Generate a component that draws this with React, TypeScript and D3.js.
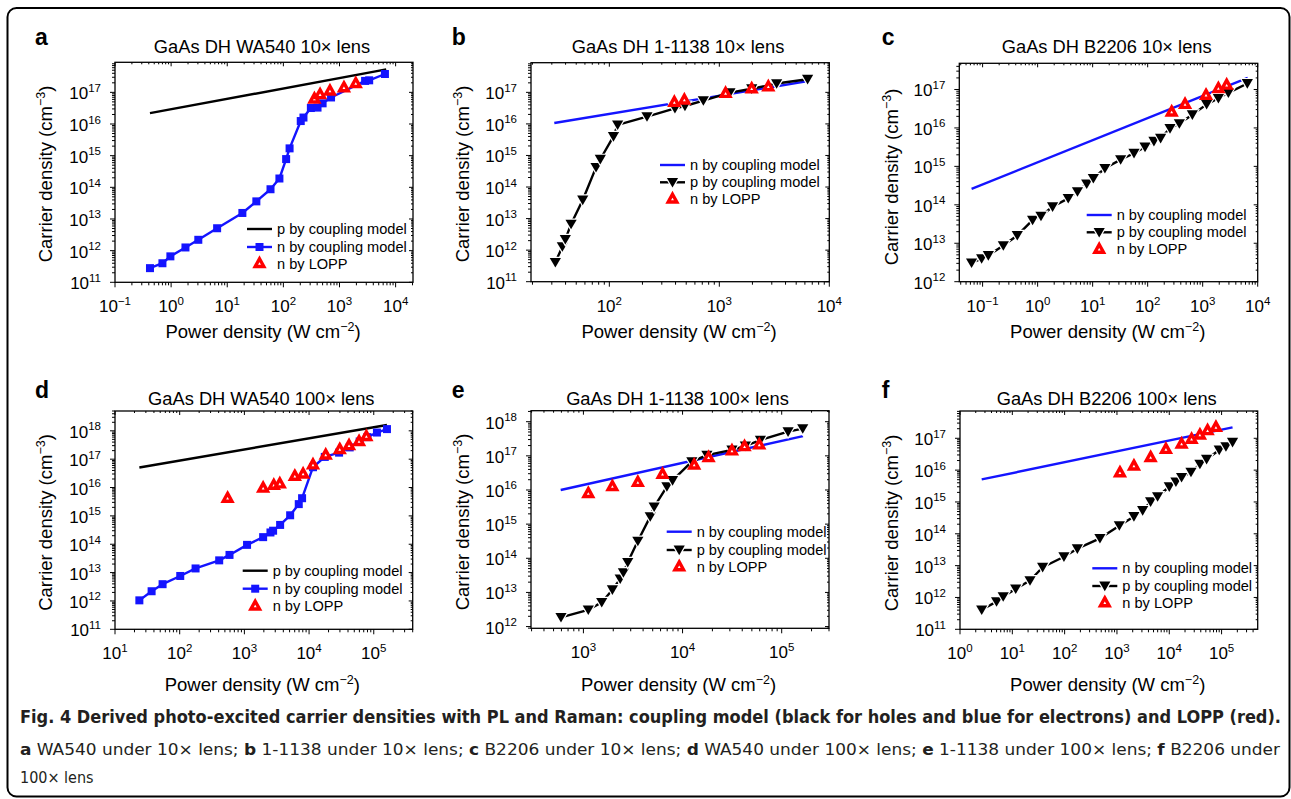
import React from 'react';
import * as d3 from 'd3';

type Pt = [number, number];

// ---- data (power density W/cm2, carrier density cm-3) ----

// a: GaAs DH WA540, 10x lens
const aHoles: Pt[] = [[0.42, 2.2e16], [6800, 5.3e17]];
const aElectrons: Pt[] = [
  [0.42, 2.8e11], [0.7, 4e11], [0.97, 6.6e11], [1.8, 1.26e12], [3.05, 2.2e12],
  [6.6, 5.1e12], [18.6, 1.55e13], [33, 3.6e13], [59, 8.7e13], [85, 1.9e14],
  [112, 7.8e14], [129, 1.7e15], [204, 1.24e16], [228, 1.6e16], [309, 3.2e16],
  [406, 3.3e16], [500, 4.5e16], [707, 6.9e16], [2860, 2.3e17], [3380, 2.4e17], [6450, 3.8e17],
];
const aLopp: Pt[] = [[357, 6.2e16], [451, 8.5e16], [676, 1.1e17], [1200, 1.4e17], [1950, 1.9e17]];

// b: GaAs DH 1-1138, 10x lens
const bElectrons: Pt[] = [[31.6, 1.07e16], [6580, 2.3e17]];
const bHoles: Pt[] = [
  [32.3, 4.1e11], [37.4, 1.29e12], [39.8, 2.2e12], [44.9, 6.7e12], [57.3, 3.9e13],
  [75.7, 4.2e14], [82.8, 7.6e14], [109, 4e15], [119, 9.3e15], [220, 1.7e16],
  [395, 3.1e16], [487, 3.7e16], [716, 5.5e16], [1250, 9.8e16], [1970, 1.3e17],
  [3320, 1.9e17], [6350, 2.6e17],
];
const bLopp: Pt[] = [[390, 4.8e16], [481, 5.7e16], [1140, 9.3e16], [1970, 1.3e17], [2790, 1.5e17]];

// c: GaAs DH B2206, 10x lens
const cElectrons: Pt[] = [[0.063, 2.6e14], [6580, 2e17]];
const cHoles: Pt[] = [
  [0.063, 3.1e12], [0.096, 4e12], [0.127, 4.8e12], [0.238, 8.7e12], [0.427, 1.6e13],
  [0.81, 4e13], [1.15, 5.1e13], [1.87, 8.9e13], [3.6, 1.47e14], [5.3, 2.2e14],
  [7.8, 3.5e14], [10.3, 4.9e14], [16.7, 8.9e14], [32.3, 1.5e15], [56.5, 2.2e15],
  [89.5, 3.2e15], [130, 4.5e15], [172, 5.4e15], [255, 9.7e15], [377, 1.3e16],
  [649, 2.2e16], [1180, 4.1e16], [1930, 5.9e16], [2930, 8.2e16], [6480, 1.43e17],
];
const cLopp: Pt[] = [[273, 2.6e16], [478, 4.1e16], [1150, 7.1e16], [1930, 1.06e17], [2730, 1.3e17]];

// d: GaAs DH WA540, 100x lens
const dHoles: Pt[] = [[23.8, 5.1e16], [1.6e5, 1.6e18]];
const dElectrons: Pt[] = [
  [23.8, 1.05e12], [36.8, 2.2e12], [54.4, 3.9e12], [102, 7.6e12], [176, 1.4e13],
  [408, 2.7e13], [589, 4.2e13], [1100, 9.5e13], [1950, 1.78e14], [2530, 2.6e14],
  [2780, 3e14], [3570, 4.8e14], [5100, 1.05e15], [6930, 2.6e15], [7800, 4.2e15],
  [11500, 5.2e16], [17500, 1.2e17], [29100, 1.7e17], [42500, 2.6e17], [60600, 4.2e17],
  [79700, 6e17], [1.12e5, 8.7e17], [1.6e5, 1.15e18],
];
const dLopp: Pt[] = [
  [550, 4.2e15], [1950, 9.5e15], [2850, 1.2e16], [3530, 1.35e16], [6020, 2.5e16],
  [8090, 3e16], [11500, 6.3e16], [18100, 1.4e17], [29800, 2.2e17], [41500, 3e17],
  [59300, 4.2e17], [76900, 6.3e17],
];

// e: GaAs DH 1-1138, 100x lens
const eElectrons: Pt[] = [[590, 1e16], [1.64e5, 3.8e17]];
const eHoles: Pt[] = [
  [594, 1.86e12], [1120, 3.1e12], [1530, 5.1e12], [1960, 1.2e13], [2350, 2.5e13],
  [2530, 3.8e13], [2800, 7.6e13], [3540, 3.2e14], [4720, 1.66e15], [5170, 3.2e15],
  [6950, 1.26e16], [7930, 1.9e16], [12400, 6.8e16], [17600, 1.05e17], [31500, 1.5e17],
  [43000, 1.95e17], [61000, 2.9e17], [1.16e5, 5.1e17], [1.63e5, 6.3e17],
];
const eLopp: Pt[] = [
  [1120, 7.9e15], [1960, 1.26e16], [3540, 1.67e16], [6280, 2.9e16], [13100, 5.4e16],
  [18300, 8.9e16], [31500, 1.4e17], [42200, 1.86e17], [59400, 2.1e17],
];

// f: GaAs DH B2206, 100x lens
const fElectrons: Pt[] = [[2.6, 5.1e15], [1.62e5, 2.2e17]];
const fHoles: Pt[] = [
  [2.6, 4.1e11], [5.0, 7.4e11], [6.7, 1.07e12], [11.6, 1.86e12], [21.8, 3.4e12],
  [38, 8.9e12], [97, 1.9e13], [175, 3.4e13], [473, 7.2e13], [1110, 1.8e14],
  [2110, 3.5e14], [3100, 5.4e14], [4400, 1.02e15], [5980, 1.47e15], [1e4, 3e15],
  [13400, 4.3e15], [17200, 5.9e15], [26000, 8.7e15], [38500, 1.55e16], [51700, 2.2e16],
  [90200, 4.3e16], [1.21e5, 5.5e16], [1.62e5, 7.5e16],
];
const fLopp: Pt[] = [
  [1140, 8.3e15], [2110, 1.35e16], [4400, 2.5e16], [8630, 4.5e16], [17200, 6.6e16],
  [26700, 9.3e16], [38500, 1.27e17], [54000, 1.74e17], [78000, 2.2e17],
];

// axis ranges
const aXDomain = [0.1, 2.04e4], aYDomain = [1e11, 8.9e17];
const bXDomain = [19.4, 1e4], bYDomain = [1e11, 8.7e17];
const cXDomain = [0.0377, 1e4], cYDomain = [1e12, 4.8e17];
const dXDomain = [10, 4e5], dYDomain = [1e11, 5e18];
const eXDomain = [296, 3e5], eYDomain = [8.9e11, 2.1e18];
const fXDomain = [1, 4.9e5], fYDomain = [1e11, 7.2e17];

const titles = [
  'GaAs DH WA540 10\u00d7 lens', 'GaAs DH 1-1138 10\u00d7 lens', 'GaAs DH B2206 10\u00d7 lens',
  'GaAs DH WA540 100\u00d7 lens', 'GaAs DH 1-1138 100\u00d7 lens', 'GaAs DH B2206 100\u00d7 lens',
];
const letters = ['a', 'b', 'c', 'd', 'e', 'f'];

const BLUE = '#1414ff';
const RED = '#ff0000';
const FONT = '"Liberation Sans", Arial, Helvetica, sans-serif';

type Series = { pts: Pt[]; kind: 'pLine' | 'nLine' | 'nSquares' | 'pTriangles' | 'lopp' };

type Panel = {
  xDomain: number[]; yDomain: number[];
  left: number; right: number; top: number; bottom: number;
  series: Series[];
  legend: { kind: Series['kind']; label: string }[];
  lx: number; rows: number[];
  titleX: number; titleY: number; letterX: number; letterY: number;
  yLabelX: number; yLabelY: number; xLabelY: number;
};

const legendWA = [
  { kind: 'pLine' as const, label: 'p by coupling model' },
  { kind: 'nSquares' as const, label: 'n by coupling model' },
  { kind: 'lopp' as const, label: 'n by LOPP' },
];
const legendOther = [
  { kind: 'nLine' as const, label: 'n by coupling model' },
  { kind: 'pTriangles' as const, label: 'p by coupling model' },
  { kind: 'lopp' as const, label: 'n by LOPP' },
];

const panels: Panel[] = [
  {
    xDomain: aXDomain, yDomain: aYDomain, left: 115, right: 413, top: 62.3, bottom: 282.3,
    series: [{ pts: aHoles, kind: 'pLine' }, { pts: aElectrons, kind: 'nSquares' }, { pts: aLopp, kind: 'lopp' }],
    legend: legendWA, lx: 247, rows: [229, 247, 263.5],
    titleX: 262, titleY: 53, letterX: 35, letterY: 45, yLabelX: 52, yLabelY: 174, xLabelY: 338,
  },
  {
    xDomain: bXDomain, yDomain: bYDomain, left: 531, right: 829.3, top: 62.7, bottom: 281.7,
    series: [{ pts: bElectrons, kind: 'nLine' }, { pts: bHoles, kind: 'pTriangles' }, { pts: bLopp, kind: 'lopp' }],
    legend: legendOther, lx: 660, rows: [165, 182.3, 199],
    titleX: 678, titleY: 53, letterX: 451.7, letterY: 45, yLabelX: 469, yLabelY: 174, xLabelY: 338,
  },
  {
    xDomain: cXDomain, yDomain: cYDomain, left: 959.3, right: 1257.7, top: 63.3, bottom: 281.7,
    series: [{ pts: cElectrons, kind: 'nLine' }, { pts: cHoles, kind: 'pTriangles' }, { pts: cLopp, kind: 'lopp' }],
    legend: legendOther, lx: 1086.7, rows: [215, 232.3, 249.3],
    titleX: 1106.7, titleY: 53, letterX: 881.7, letterY: 45, yLabelX: 898, yLabelY: 177, xLabelY: 338,
  },
  {
    xDomain: dXDomain, yDomain: dYDomain, left: 115, right: 412.7, top: 411, bottom: 629.3,
    series: [{ pts: dHoles, kind: 'pLine' }, { pts: dElectrons, kind: 'nSquares' }, { pts: dLopp, kind: 'lopp' }],
    legend: legendWA, lx: 242.7, rows: [570.7, 588.7, 606],
    titleX: 261.3, titleY: 405, letterX: 35, letterY: 397.7, yLabelX: 52, yLabelY: 522.5, xLabelY: 691,
  },
  {
    xDomain: eXDomain, yDomain: eYDomain, left: 531, right: 829, top: 410.7, bottom: 628.3,
    series: [{ pts: eElectrons, kind: 'nLine' }, { pts: eHoles, kind: 'pTriangles' }, { pts: eLopp, kind: 'lopp' }],
    legend: legendOther, lx: 666.7, rows: [531.7, 550, 566.7],
    titleX: 677.5, titleY: 405, letterX: 451.7, letterY: 397.7, yLabelX: 469, yLabelY: 522, xLabelY: 691,
  },
  {
    xDomain: fXDomain, yDomain: fYDomain, left: 960, right: 1257.7, top: 411, bottom: 629.3,
    series: [{ pts: fElectrons, kind: 'nLine' }, { pts: fHoles, kind: 'pTriangles' }, { pts: fLopp, kind: 'lopp' }],
    legend: legendOther, lx: 1092.3, rows: [568.3, 586, 602.7],
    titleX: 1106.7, titleY: 405, letterX: 881.7, letterY: 397.7, yLabelX: 898, yLabelY: 523, xLabelY: 691,
  },
];

// decade + minor ticks inside a log domain
function logTicks(domain: number[]) {
  const [lo, hi] = domain;
  const out: { v: number; major: boolean; k: number }[] = [];
  for (let k = Math.floor(Math.log10(lo)); k <= Math.ceil(Math.log10(hi)); k++) {
    for (let m = 1; m <= 9; m++) {
      const v = m * Math.pow(10, k);
      if (v >= lo * 0.9999 && v <= hi * 1.0001) out.push({ v, major: m === 1, k });
    }
  }
  return out;
}

const expText = (k: number) => (k < 0 ? '\u2212' + Math.abs(k) : String(k));

const triDown = 'M-5.6,-4.4L5.6,-4.4L0,5.2Z';
const triUp = 'M0,-4.8L4.3,3L-4.3,3Z';

function Marker({ kind, cx, cy }: { kind: Series['kind']; cx: number; cy: number }) {
  if (kind === 'nSquares')
    return <rect x={cx - 4} y={cy - 4} width={8} height={8} fill={BLUE} />;
  if (kind === 'pTriangles')
    return (
      <path d={triDown} transform={`translate(${cx},${cy})`} fill="#000"
        stroke="#fff" strokeWidth={2.4} style={{ paintOrder: 'stroke' }} />
    );
  if (kind === 'lopp')
    return (
      <path d={triUp} transform={`translate(${cx},${cy})`} fill="#fff"
        stroke={RED} strokeWidth={3.4} strokeLinejoin="miter" />
    );
  return null;
}

function LogPanel({ p, i }: { p: Panel; i: number }) {
  const x = d3.scaleLog().domain(p.xDomain).range([p.left, p.right]);
  const y = d3.scaleLog().domain(p.yDomain).range([p.bottom, p.top]);
  const line = d3.line<Pt>().x(d => x(d[0])).y(d => y(d[1]));
  const xt = logTicks(p.xDomain);
  const yt = logTicks(p.yDomain);

  const lineColor = (k: Series['kind']) => (k === 'pLine' || k === 'pTriangles' ? '#000' : BLUE);

  return (
    <g>
      <text x={p.letterX} y={p.letterY} fontSize={23} fontWeight="bold" fontFamily={FONT}>{letters[i]}</text>
      <text x={p.titleX} y={p.titleY} fontSize={18.3} textAnchor="middle" fontFamily={FONT}>{titles[i]}</text>

      {/* ticks */}
      {xt.map((t, j) => {
        const px = x(t.v);
        const len = t.major ? 5 : 3;
        return (
          <g key={'x' + j}>
            <line x1={px} x2={px} y1={p.bottom} y2={p.bottom + len} stroke="#000" strokeWidth={1} />
            <line x1={px} x2={px} y1={p.top} y2={p.top + len - 1} stroke="#000" strokeWidth={1} />
            {t.major && (
              <text x={px} y={p.bottom + 30} textAnchor="middle" fontSize={17} fontFamily={FONT}>
                10<tspan dy={-7} fontSize={11.5}>{expText(t.k)}</tspan>
              </text>
            )}
          </g>
        );
      })}
      {yt.map((t, j) => {
        const py = y(t.v);
        const len = t.major ? 5 : 3;
        return (
          <g key={'y' + j}>
            <line x1={p.left - len} x2={p.left} y1={py} y2={py} stroke="#000" strokeWidth={1} />
            <line x1={p.right - len + 1} x2={p.right} y1={py} y2={py} stroke="#000" strokeWidth={1} />
            {t.major && (
              <text x={p.left - 14} y={py + 7} textAnchor="end" fontSize={17} fontFamily={FONT}>
                10<tspan dy={-7.5} fontSize={11.5}>{expText(t.k)}</tspan>
              </text>
            )}
          </g>
        );
      })}

      {/* series */}
      {p.series.map((s, j) =>
        s.kind === 'lopp' ? null : (
          <path key={'l' + j} d={line(s.pts) || ''} fill="none" stroke={lineColor(s.kind)}
            strokeWidth={2.4} strokeLinejoin="round" />
        )
      )}
      {p.series.map((s, j) =>
        s.pts.map((d, m) => <Marker key={'m' + j + '-' + m} kind={s.kind} cx={x(d[0])} cy={y(d[1])} />)
      )}

      <rect x={p.left} y={p.top} width={p.right - p.left} height={p.bottom - p.top}
        fill="none" stroke="#000" strokeWidth={1.3} />

      {/* legend */}
      {p.legend.map((l, j) => {
        const ly = p.rows[j];
        return (
          <g key={'lg' + j}>
            {l.kind !== 'lopp' && (
              <line x1={p.lx} x2={p.lx + 25} y1={ly} y2={ly} stroke={lineColor(l.kind)} strokeWidth={2.4} />
            )}
            <Marker kind={l.kind} cx={p.lx + 12.5} cy={ly} />
            <text x={p.lx + 30} y={ly + 5} fontSize={14.6} fontFamily={FONT}>{l.label}</text>
          </g>
        );
      })}

      {/* axis labels */}
      <text transform={`translate(${p.yLabelX},${p.yLabelY}) rotate(-90)`} textAnchor="middle"
        fontSize={18.5} fontFamily={FONT}>
        Carrier density (cm<tspan dy={-7} fontSize={12.5}>{'\u22123'}</tspan><tspan dy={7}>)</tspan>
      </text>
      <text x={p.titleX + 1} y={p.xLabelY} textAnchor="middle" fontSize={18.5} fontFamily={FONT}>
        Power density (W cm<tspan dy={-7} fontSize={12.5}>{'\u22122'}</tspan><tspan dy={7}>)</tspan>
      </text>
    </g>
  );
}

const CAP_FONT = '"DejaVu Sans Condensed", "Liberation Sans Narrow", "Open Sans", sans-serif';

export default function App() {
  return (
    <svg width={1291} height={799} style={{ position: 'absolute', left: 0, top: 0, background: '#fff' }}>
      <rect x={0} y={0} width={1291} height={799} fill="#fff" />
      <rect x={7.5} y={8} width={1282} height={788.5} rx={9} fill="none" stroke="#000" strokeWidth={2} />
      {panels.map((p, i) => <LogPanel key={i} p={p} i={i} />)}

      <text x={20} y={723} fontSize={17} fontWeight="bold" fontFamily={CAP_FONT} fill="#231f20"
        textLength={1261} lengthAdjust="spacingAndGlyphs">
        Fig. 4 Derived photo-excited carrier densities with PL and Raman: coupling model (black for holes and blue for electrons) and LOPP (red).
      </text>
      <text x={20} y={755} fontSize={16} fontFamily={CAP_FONT} fill="#231f20"
        textLength={1260} lengthAdjust="spacingAndGlyphs">
        <tspan fontWeight="bold">a</tspan> WA540 under 10{'\u00d7'} lens; <tspan fontWeight="bold">b</tspan> 1-1138 under 10{'\u00d7'} lens; <tspan fontWeight="bold">c</tspan> B2206 under 10{'\u00d7'} lens; <tspan fontWeight="bold">d</tspan> WA540 under 100{'\u00d7'} lens; <tspan fontWeight="bold">e</tspan> 1-1138 under 100{'\u00d7'} lens; <tspan fontWeight="bold">f</tspan> B2206 under
      </text>
      <text x={20} y={783} fontSize={16} fontFamily={CAP_FONT} fill="#231f20">
        100{'\u00d7'} lens
      </text>
    </svg>
  );
}
